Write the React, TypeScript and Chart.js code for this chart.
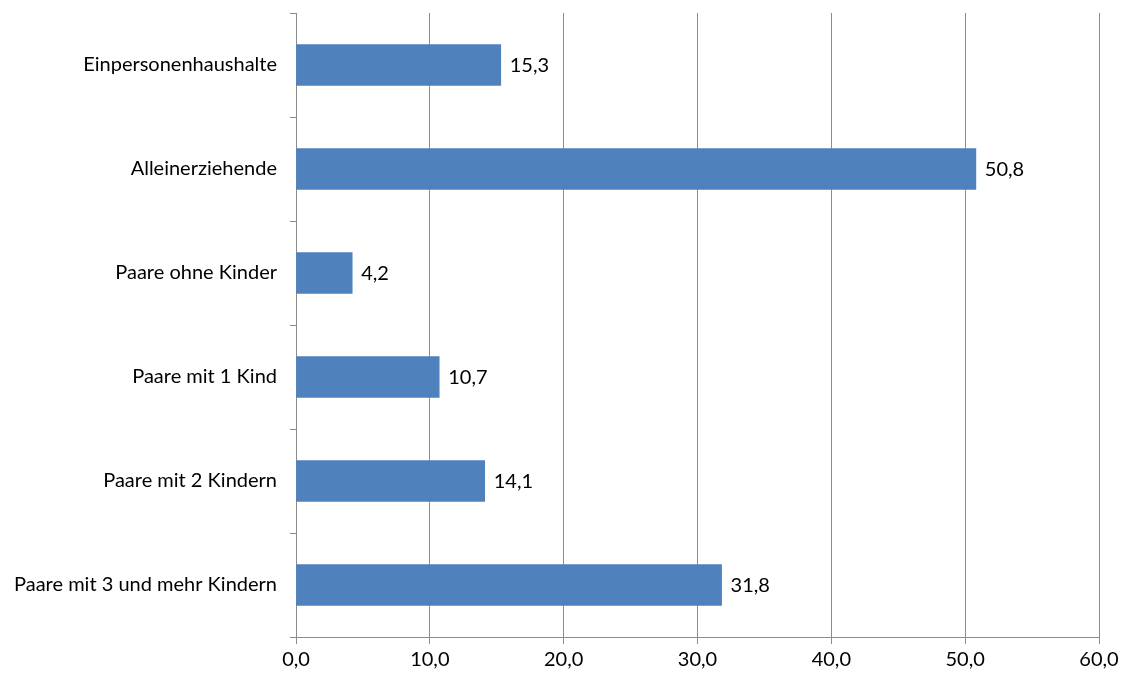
import React, { useEffect, useRef } from "react";
import { Chart, registerables } from "chart.js";

Chart.register(...registerables);

const categories = [
  "Einpersonenhaushalte",
  "Alleinerziehende",
  "Paare ohne Kinder",
  "Paare mit 1 Kind",
  "Paare mit 2 Kindern",
  "Paare mit 3 und mehr Kindern",
];
const values = [15.3, 50.8, 4.2, 10.7, 14.1, 31.8];
const xMin = 0;
const xMax = 60;
const xStep = 10;

const fmt = (v: number) => v.toFixed(1).replace(".", ",");
const FONT = "Lato, 'Open Sans', sans-serif";
const GRID = "#8c8c8c";
const FS = 20;

const valueLabels = {
  id: "valueLabels",
  afterDatasetsDraw(chart: any) {
    const ctx = chart.ctx;
    const meta = chart.getDatasetMeta(0);
    ctx.save();
    ctx.font = `${FS}px ${FONT}`;
    ctx.fillStyle = "#000";
    ctx.textAlign = "left";
    ctx.textBaseline = "middle";
    meta.data.forEach((el: any, i: number) => {
      ctx.fillText(fmt(values[i]), el.x + 9, el.y + 1);
    });
    ctx.restore();
  },
};

export default function App() {
  const ref = useRef<HTMLCanvasElement>(null);
  useEffect(() => {
    if (!ref.current) return;
    const chart = new Chart(ref.current, {
      type: "bar",
      data: {
        labels: categories,
        datasets: [
          {
            data: values,
            backgroundColor: "#4F81BD",
            barThickness: 41,
          },
        ],
      },
      options: {
        indexAxis: "y",
        animation: false,
        responsive: false,
        maintainAspectRatio: false,
        devicePixelRatio: 1,
        layout: { padding: { left: 0, right: 26, top: 13, bottom: 0 } },
        plugins: {
          legend: { display: false },
          tooltip: { enabled: false },
        },
        scales: {
          x: {
            min: xMin,
            max: xMax,
            ticks: {
              stepSize: xStep,
              callback: (v: any) => fmt(Number(v)),
              color: "#000",
              font: { family: FONT, size: FS },
              padding: 4,
              maxRotation: 0,
            },
            grid: {
              color: GRID,
              lineWidth: 1,
              tickLength: 7,
              drawTicks: true,
            },
            border: { display: true, color: GRID },
            afterFit: (s: any) => {
              s.height = 38;
              s.paddingLeft = 0;
              s.paddingRight = 0;
            },
          },
          y: {
            ticks: {
              color: "#000",
              font: { family: FONT, size: FS },
              padding: 13,
            },
            grid: {
              offset: true,
              drawOnChartArea: false,
              drawTicks: true,
              tickLength: 6,
              color: GRID,
            },
            border: { display: true, color: GRID },
            afterFit: (s: any) => {
              s.width = 296;
              s.paddingTop = 0;
              s.paddingBottom = 0;
            },
          },
        },
      },
      plugins: [valueLabels],
    });
    return () => chart.destroy();
  }, []);
  return (
    <div style={{ position: "fixed", left: 0, top: 0, width: 1125, height: 675, background: "#fff" }}>
      <canvas ref={ref} width={1125} height={675} style={{ width: 1125, height: 675 }} />
    </div>
  );
}
